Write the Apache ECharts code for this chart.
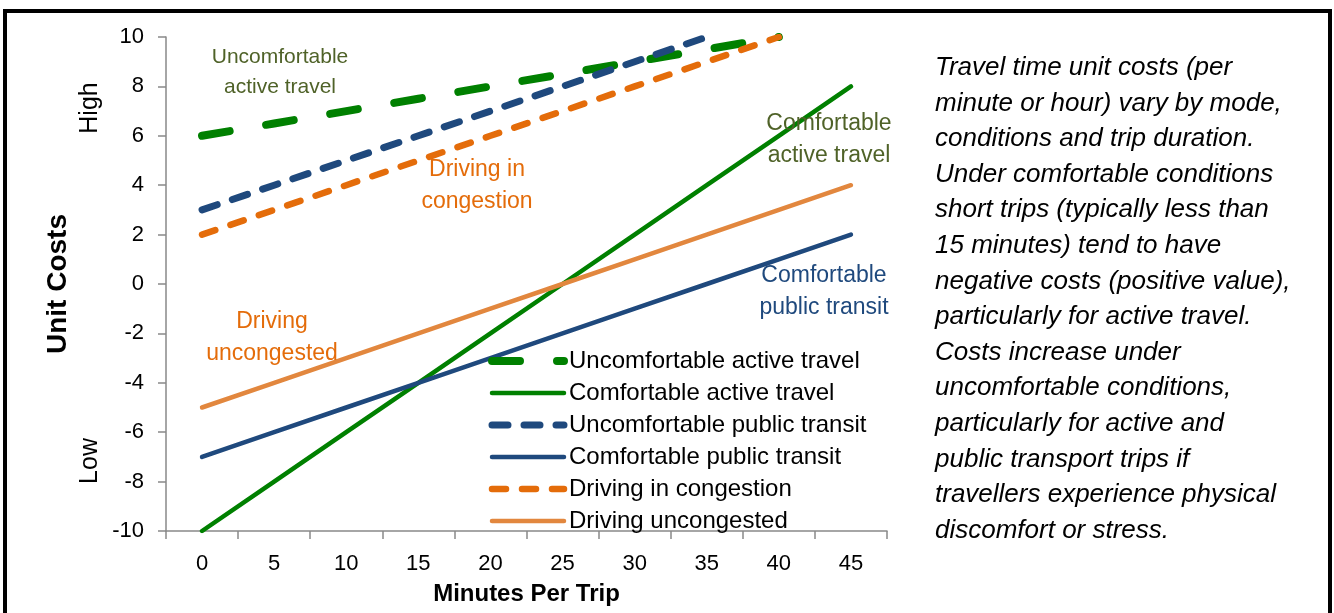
<!DOCTYPE html>
<html>
<head>
<meta charset="utf-8">
<script src="https://cdn.jsdelivr.net/npm/echarts@6/dist/echarts.min.js"></script>
<style>
  html, body { margin: 0; padding: 0; background: #fff; }
  #chart { width: 1334px; height: 613px; }
</style>
</head>
<body>
<div id="chart"></div>
<script>
const minutes = ["0", "5", "10", "15", "20", "25", "30", "35", "40", "45"]
const uncomfortableActive = [6, 6.5, 7, 7.5, 8, 8.5, 9, 9.5, 10, null]
const comfortableActive = [-10, -8, -6, -4, -2, 0, 2, 4, 6, 8]
const uncomfortableTransit = [3, 4, 5, 6, 7, 8, 9, 10, null, null]
const comfortableTransit = [-7, -6, -5, -4, -3, -2, -1, 0, 1, 2]
const drivingCongestion = [2, 3, 4, 5, 6, 7, 8, 9, 10, null]
const drivingUncongested = [-5, -4, -3, -2, -1, 0, 1, 2, 3, 4]

const FONT = "Liberation Sans, Arial, sans-serif"
const GREEN = "#008000"
const BLUE = "#1F497D"
const ORANGE = "#E46C0A"
const ORANGE_LIGHT = "#E2873E"
const OLIVE = "#4F6228"
const AXIS = "#898989"

const note = [
  "Travel time unit costs (per",
  "minute or hour) vary by mode,",
  "conditions and trip duration.",
  "Under comfortable conditions",
  "short trips (typically less than",
  "15 minutes) tend to have",
  "negative costs (positive value),",
  "particularly for active travel.",
  "Costs increase under",
  "uncomfortable conditions,",
  "particularly for active and",
  "public transport trips if",
  "travellers experience physical",
  "discomfort or stress.",
]

const chart = echarts.init(document.getElementById("chart"))

function lineSeries(name, data, color, width, dash) {
  return {
    name: name,
    type: "line",
    data: data,
    symbol: "none",
    lineStyle: {
      color: color,
      width: width,
      type: dash || "solid",
      cap: "round",
    },
    itemStyle: { color: color },
  }
}

function label(x, y, text, color, size) {
  return {
    type: "text",
    x: x,
    y: y,
    z: 100,
    style: {
      text: text,
      fill: color,
      font: size + "px " + FONT,
      align: "center",
      verticalAlign: "middle",
      lineHeight: size + 9,
    },
  }
}

function rotated(x, y, text, size, weight) {
  return {
    type: "text",
    x: x,
    y: y,
    rotation: Math.PI / 2,
    style: {
      text: text,
      fill: "#000",
      font: (weight || "normal") + " " + size + "px " + FONT,
      align: "center",
      verticalAlign: "middle",
    },
  }
}

const option = {
  backgroundColor: "#fff",
  animation: false,
  grid: { left: 166, right: 447, top: 37, bottom: 82 },
  legend: {
    orient: "vertical",
    left: 488,
    top: 349,
    padding: 0,
    itemWidth: 72,
    itemHeight: 14,
    itemGap: 8,
    itemStyle: { opacity: 0 },
    lineStyle: { width: "inherit", type: "inherit", cap: "round" },
    textStyle: { fontFamily: FONT, fontSize: 24, color: "#000" },
  },
  xAxis: {
    type: "category",
    data: minutes,
    boundaryGap: true,
    name: "Minutes Per Trip",
    nameLocation: "middle",
    nameGap: 51,
    nameTextStyle: { fontFamily: FONT, fontSize: 24, fontWeight: "bold", color: "#000" },
    axisLine: { onZero: false, lineStyle: { color: AXIS, width: 1.5 } },
    axisTick: { show: true, length: 8, lineStyle: { color: AXIS, width: 1.5 } },
    axisLabel: { fontFamily: FONT, fontSize: 22, color: "#000", margin: 22 },
    splitLine: { show: false },
  },
  yAxis: {
    type: "value",
    min: -10,
    max: 10,
    interval: 2,
    axisLine: { show: true, lineStyle: { color: AXIS, width: 1.5 } },
    axisTick: { show: true, length: 8, lineStyle: { color: AXIS, width: 1.5 } },
    axisLabel: { fontFamily: FONT, fontSize: 22, color: "#000", margin: 22 },
    splitLine: { show: false },
  },
  series: [
    lineSeries("Uncomfortable active travel", uncomfortableActive, GREEN, 8, [28, 37]),
    lineSeries("Comfortable active travel", comfortableActive, GREEN, 4.5),
    lineSeries("Uncomfortable public transit", uncomfortableTransit, BLUE, 7, [16, 16]),
    lineSeries("Comfortable public transit", comfortableTransit, BLUE, 4.5),
    lineSeries("Driving in congestion", drivingCongestion, ORANGE, 6.5, [14, 16]),
    lineSeries("Driving uncongested", drivingUncongested, ORANGE_LIGHT, 4.5),
  ],
  graphic: [
    {
      type: "rect",
      shape: { x: 5, y: 11, width: 1325, height: 700 },
      style: { fill: "none", stroke: "#000", lineWidth: 4 },
    },
    rotated(58, 284, "Unit Costs", 28, "bold"),
    rotated(90, 108, "High", 25),
    rotated(90, 461, "Low", 25),
    label(280, 72, "Uncomfortable\nactive travel", OLIVE, 21),
    label(829, 140, "Comfortable\nactive travel", OLIVE, 23),
    label(477, 186, "Driving in\ncongestion", ORANGE, 23),
    label(824, 292, "Comfortable\npublic transit", BLUE, 23),
    label(272, 338, "Driving\nuncongested", ORANGE, 23),
    {
      type: "text",
      x: 935,
      y: 50,
      style: {
        text: note.join("\n"),
        fill: "#000",
        font: "italic 26px " + FONT,
        lineHeight: 35.6,
        align: "left",
        verticalAlign: "top",
      },
    },
  ],
}

chart.setOption(option)

window.addEventListener("resize", () => chart.resize())
</script>
</body>
</html>
